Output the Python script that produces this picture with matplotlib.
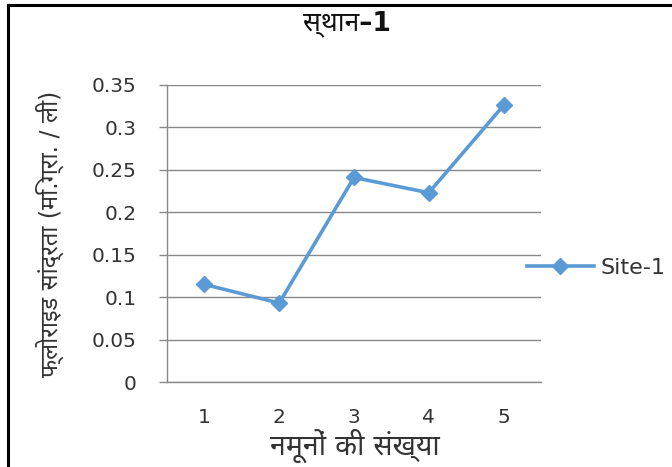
import matplotlib
matplotlib.use("Agg")
import matplotlib.pyplot as plt
from matplotlib.lines import Line2D

# sample number vs fluoride concentration at site 1
samples = ["1", "2", "3", "4", "5"]
fluoride = [0.115, 0.093, 0.241, 0.223, 0.326]
yticks = [0, 0.05, 0.1, 0.15, 0.2, 0.25, 0.3, 0.35]
ytick_labels = ["0", "0.05", "0.1", "0.15", "0.2", "0.25", "0.3", "0.35"]

title = "स्थान–1"
xlabel = "नमूनों की संख्या"
ylabel = "फ्लोराइड सांद्रता (मि.ग्रा. / ली)"
series_name = "Site-1"

fonts = ["DejaVu Sans", "Noto Sans Devanagari", "FreeSans"]
plt.rcParams["font.family"] = fonts

blue = "#5B9BD5"
grey = "#888888"
text_col = "#333333"

W, H = 672, 467
fig = plt.figure(figsize=(W / 100, H / 100), dpi=100)
ax = fig.add_axes([167 / W, 1 - 382 / H, 374 / W, 297 / H])

x = list(range(1, len(samples) + 1))
ax.plot(x, fluoride, color=blue, linewidth=2.6, marker="D", markersize=8,
        markeredgecolor=blue, markerfacecolor=blue, zorder=3)

ax.set_xlim(0.5, len(samples) + 0.5)
ax.set_ylim(0, 0.35)
ax.set_yticks(yticks)
ax.set_yticklabels(ytick_labels)
ax.set_xticks(x)
ax.set_xticklabels(samples)

ax.grid(axis="y", color=grey, linewidth=1)
ax.set_axisbelow(True)
for side in ["top", "right"]:
    ax.spines[side].set_visible(False)
for side in ["left", "bottom"]:
    ax.spines[side].set_color(grey)
    ax.spines[side].set_linewidth(1)

ax.tick_params(axis="y", direction="out", length=6, color=grey, width=1,
               labelsize=14.5, labelcolor=text_col, pad=16)
ax.tick_params(axis="x", length=0, labelsize=14.5, labelcolor=text_col, pad=19)

ax.set_xlabel(xlabel, fontsize=20.5, color=text_col, va="center")
ax.xaxis.set_label_coords((355 - 167) / 374, (382 - 446) / 297)
ax.set_ylabel(ylabel, fontsize=17, color=text_col, va="center")
ax.yaxis.set_label_coords((50 - 167) / 374, 0.5)
fig.text(347 / W, 1 - 24 / H, title, ha="center", va="center",
         fontsize=19, fontweight="bold", color="#111111")

# legend entry on the right
handle = Line2D([], [], color=blue, linewidth=2.6, marker="D", markersize=8)
fig.legend([handle], [series_name], loc="center left",
           bbox_to_anchor=(527 / W, 1 - 268 / H), frameon=False,
           borderpad=0, borderaxespad=0, fontsize=16, handlelength=3.0,
           handletextpad=0.3, labelcolor=text_col)

# black frame along the left and top edges
fig.add_artist(Line2D([8 / W, 8 / W], [0, 1 - 5 / H], color="black",
                      linewidth=2.2, transform=fig.transFigure))
fig.add_artist(Line2D([8 / W, 1], [1 - 5 / H, 1 - 5 / H], color="black",
                      linewidth=2.2, transform=fig.transFigure))

fig.savefig("out.png", dpi=100)
